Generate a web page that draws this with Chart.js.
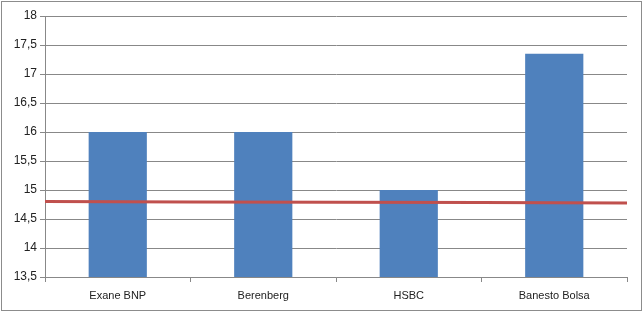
<!DOCTYPE html>
<html>
<head>
<meta charset="utf-8">
<script src="https://cdn.jsdelivr.net/npm/chart.js@4/dist/chart.umd.min.js"></script>
<style>
html,body{margin:0;padding:0;background:#fff;}
#wrap{width:644px;height:313px;position:relative;}
</style>
</head>
<body>
<div id="wrap"><canvas id="c" width="644" height="313"></canvas></div>
<script>
const categories = ["Exane BNP", "Berenberg", "HSBC", "Banesto Bolsa"];
const barValues = [16, 16, 15, 17.35];
const lineX = [-0.5, 0.5, 1.5, 2.5, 3.5];
const lineValues = [14.8, 14.795, 14.79, 14.785, 14.775];
const yMin = 13.5, yMax = 18, yStep = 0.5;

const borderPlugin = {
  id: 'outerBorder',
  afterDraw(chart) {
    const ctx = chart.ctx;
    ctx.save();
    ctx.strokeStyle = '#8c8c8c';
    ctx.lineWidth = 1;
    ctx.strokeRect(1.5, 1.5, chart.width - 4, chart.height - 4);
    ctx.restore();
  }
};

new Chart(document.getElementById('c'), {
  type: 'bar',
  data: {
    labels: categories,
    datasets: [
      {
        type: 'bar',
        data: barValues,
        backgroundColor: '#4F81BD',
        borderWidth: 0,
        categoryPercentage: 1,
        barPercentage: 0.4,
        grouped: false,
        xAxisID: 'x',
        order: 2
      },
      {
        type: 'line',
        data: lineX.map((x, i) => ({x: x, y: lineValues[i]})),
        borderColor: '#C0504D',
        borderWidth: 3,
        pointRadius: 0,
        fill: false,
        tension: 0,
        xAxisID: 'x2',
        order: 1
      }
    ]
  },
  options: {
    responsive: false,
    animation: false,
    layout: { padding: { left: 0, right: 17, top: 16, bottom: 0 } },
    plugins: { legend: { display: false }, tooltip: { enabled: false } },
    scales: {
      x: {
        type: 'category',
        offset: true,
        grid: { display: true, drawOnChartArea: false, drawTicks: true, tickLength: 5, color: '#888888', offset: true },
        border: { display: true, color: '#888888' },
        ticks: { color: '#222', font: { family: 'Liberation Sans', size: 11 }, padding: 7, maxRotation: 0 },
        afterFit(s) { s.height = 36; }
      },
      x2: {
        type: 'linear',
        display: false,
        offset: false,
        bounds: 'ticks',
        min: -0.5,
        max: 3.5,
        grid: { offset: false }
      },
      y: {
        min: yMin,
        max: yMax,
        grid: { color: '#888888', tickLength: 5 },
        border: { display: true, color: '#888888' },
        ticks: {
          stepSize: yStep,
          color: '#222',
          padding: 3,
          font: { family: 'Liberation Sans', size: 12 },
          callback: v => String(v).replace('.', ',')
        },
        afterFit(s) { s.width = 45; }
      }
    }
  },
  plugins: [borderPlugin]
});
</script>
</body>
</html>
